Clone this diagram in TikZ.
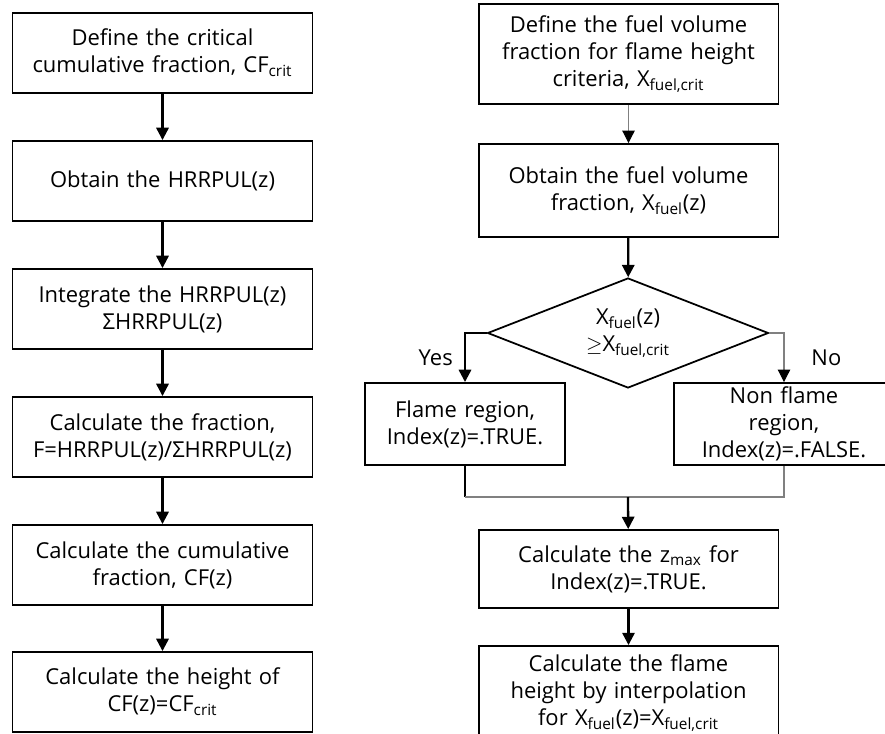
\documentclass[tikz,border=0pt]{standalone}
\usepackage{fontspec}
\setmainfont{Open Sans}
\usetikzlibrary{shapes.geometric,arrows.meta,positioning}
\newcommand{\sbs}[1]{\textsubscript{#1}}

\begin{document}
\begin{tikzpicture}[x=0.02cm,y=-0.02cm,
    font=\fontsize{12.5}{15.3}\selectfont,
    stepbox/.style={draw,line width=1.1pt,align=center,inner sep=0pt,
        minimum width=6cm,text width=5.9cm},
    decision/.style={draw,diamond,line width=1pt,align=center,inner sep=0pt,
        aspect=2.55,minimum width=5.62cm,minimum height=2.2cm},
    flowline/.style={line width=1.3pt,-{Triangle[length=7pt,width=7pt]}},
    thinline/.style={line width=0.6pt,gray},
    thinflow/.style={thinline,-{Triangle[length=7pt,width=7pt,color=black]}}]
\useasboundingbox (0,0) rectangle (885,733);

% left column
\node[stepbox,minimum height=1.6cm] (crit) at (162.5,53) {Define the critical\\cumulative fraction, CF\sbs{crit}};
\node[stepbox,minimum height=1.6cm] (hrr) at (162.5,181) {Obtain the HRRPUL(z)};
\node[stepbox,minimum height=1.6cm] (sum) at (162.5,309) {Integrate the HRRPUL(z)\\ΣHRRPUL(z)};
\node[stepbox,minimum height=1.6cm] (frac) at (162.5,437) {Calculate the fraction,\\F=HRRPUL(z)/ΣHRRPUL(z)};
\node[stepbox,minimum height=1.6cm] (cum) at (162.5,565) {Calculate the cumulative\\fraction, CF(z)};
\node[stepbox,minimum height=1.6cm] (hgt) at (162.5,692) {Calculate the height of\\CF(z)=CF\sbs{crit}};
\foreach \a/\b in {crit/hrr,hrr/sum,sum/frac,frac/cum,cum/hgt} {
    \draw[flowline] (\a) -- (\b);
}

% right column
\node[stepbox,minimum height=2cm] (xcrit) at (628.5,54) {Define the fuel volume\\fraction for flame height\\criteria, X\sbs{fuel,crit}};
\node[stepbox,minimum height=1.86cm] (xfuel) at (628.5,190.5) {Obtain the fuel volume\\fraction, X\sbs{fuel}(z)};
\node[decision] (test) at (628,333) {X\sbs{fuel}(z)\\$\geq$X\sbs{fuel,crit}};
\node[stepbox,minimum width=4cm,text width=3.9cm,minimum height=1.64cm] (yes) at (465,424) {Flame region,\\Index(z)=.TRUE.};
\node[stepbox,minimum width=4.4cm,text width=4.3cm,minimum height=1.64cm] (no) at (784,424) {Non flame\\region,\\Index(z)=.FALSE.};
\coordinate (join) at (628,497);
\node[stepbox,minimum height=1.56cm] (zmax) at (628.5,569) {Calculate the z\sbs{max} for\\Index(z)=.TRUE.};
\node[stepbox,minimum height=1.88cm] (interp) at (628.5,693) {Calculate the flame\\height by interpolation\\for X\sbs{fuel}(z)=X\sbs{fuel,crit}};

\draw[thinflow] (xcrit) -- (xfuel);
\draw[flowline] (xfuel) -- (test);
\draw[flowline] (test.west) -| node[pos=0.75,left,xshift=-3pt] {Yes} (yes.north);
\draw[thinflow] (test.east) -| node[pos=0.75,right,xshift=12pt,text=black] {No} (no.north);
\draw[line width=1.3pt] (yes.south) -- (yes.south |- join);
\draw[thinline] (yes.south |- join) -- (no.south |- join) -- (no.south);
\draw[flowline] (join) -- (zmax);
\draw[flowline] (zmax) -- (interp);
\end{tikzpicture}
\end{document}
